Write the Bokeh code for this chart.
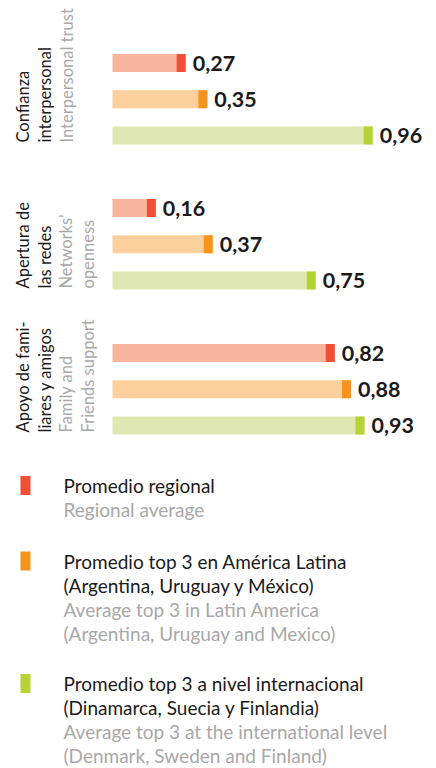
import math
from bokeh.plotting import figure
from bokeh.models import Range1d, Label, BoxAnnotation, ColumnDataSource
from bokeh.core.properties import value
from bokeh.embed import file_html
from bokeh.resources import INLINE

# ---- data ----
categories_es = [["Confianza", "interpersonal"],
                 ["Apertura de", "las redes"],
                 ["Apoyo de fami-", "liares y amigos"]]
categories_en = [["Interpersonal trust"],
                 ["Networks'", "openness"],
                 ["Family and", "Friends support"]]
regional = [0.27, 0.16, 0.82]
latam_top3 = [0.35, 0.37, 0.88]
intl_top3 = [0.96, 0.75, 0.93]
series_names_es = [["Promedio regional"],
                   ["Promedio top 3 en América Latina", "(Argentina, Uruguay y México)"],
                   ["Promedio top 3 a nivel internacional", "(Dinamarca, Suecia y Finlandia)"]]
series_names_en = [["Regional average"],
                   ["Average top 3 in Latin America", "(Argentina, Uruguay and Mexico)"],
                   ["Average top 3 at the international level", "(Denmark, Sweden and Finland)"]]

# ---- style ----
W, H = 436, 768
FONT = "Lato"
BLACK = "#1a1a1a"
GRAY = "#a8a8a8"
light_cols = ["#F8B59D", "#FDCF9D", "#DFE8B0"]
cap_cols = ["#F04E37", "#F7941D", "#B5D334"]
PX_PER_UNIT = 271.0
X0 = 112.0          # screen x of value 0
SLOT_PX = 36.25
Y0 = 62.5           # screen y (from top) of slot 0
CAP_W = 9 / PX_PER_UNIT
BAR_H = 18 / SLOT_PX

p = figure(width=W, height=H, output_backend="svg", toolbar_location=None,
           x_range=Range1d(-X0 / PX_PER_UNIT, (W - X0) / PX_PER_UNIT),
           y_range=Range1d((H - Y0) / SLOT_PX, -Y0 / SLOT_PX),
           min_border=0)
p.axis.visible = False
p.grid.visible = False
p.outline_line_color = None
p.background_fill_color = "white"

series = [regional, latam_top3, intl_top3]
for s, vals in enumerate(series):
    ys = [g * 4 + s for g in range(len(vals))]
    src = ColumnDataSource(dict(y=ys, v=vals,
                                cap_l=[v - CAP_W for v in vals],
                                lab=[f"{v:.2f}".replace(".", ",") for v in vals]))
    p.hbar(y="y", left=0, right="v", height=BAR_H, source=src,
           fill_color=light_cols[s], line_color=None)
    p.hbar(y="y", left="cap_l", right="v", height=BAR_H, source=src,
           fill_color=cap_cols[s], line_color=None)
    p.text(x="v", y="y", text="lab", source=src, x_offset=7,
           text_font=value(FONT), text_font_style="bold", text_font_size="21.5px",
           text_color=BLACK, text_baseline="middle", text_align="left")

def sx(x):  # reference page x -> figure screen x
    return x

def sy(y):  # reference page y (from top) -> figure screen y (from bottom)
    return H - y

# rotated group labels
col_x = [[22, 44, 66], [22, 44, 65, 87], [22, 44, 65, 87]]
bottoms = [142, 288, 432]
for g in range(3):
    lines = [(t, BLACK) for t in categories_es[g]] + [(t, GRAY) for t in categories_en[g]]
    for i, (t, c) in enumerate(lines):
        p.add_layout(Label(x=sx(col_x[g][i]), y=sy(bottoms[g]), x_units="screen", y_units="screen",
                           text=t, angle=math.pi / 2, text_align="left", text_baseline="middle",
                           text_font=FONT, text_font_size="16.5px", text_color=c))

# legend
leg_first = [485, 560.5, 683]
LINE = 24
for s in range(3):
    y1 = leg_first[s]
    p.add_layout(BoxAnnotation(left=sx(20), right=sx(30), top=sy(y1 - 9.5), bottom=sy(y1 + 9.5),
                               left_units="screen", right_units="screen",
                               top_units="screen", bottom_units="screen",
                               fill_color=cap_cols[s], fill_alpha=1, line_color=None))
    lines = [(t, BLACK) for t in series_names_es[s]] + [(t, GRAY) for t in series_names_en[s]]
    for i, (t, c) in enumerate(lines):
        p.add_layout(Label(x=sx(63), y=sy(y1 + i * LINE), x_units="screen", y_units="screen",
                           text=t, text_align="left", text_baseline="middle",
                           text_font=FONT, text_font_size="19px", text_color=c))

open("out.html", "w").write(file_html(p, INLINE))
